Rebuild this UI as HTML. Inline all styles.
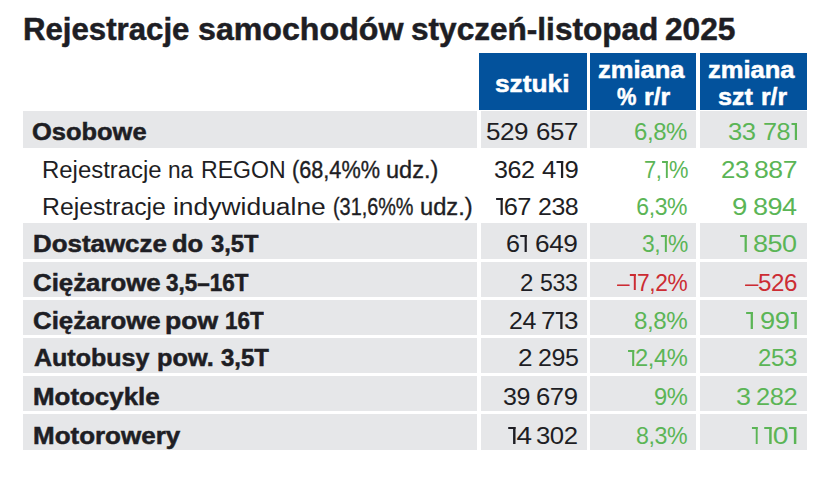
<!DOCTYPE html>
<html><head><meta charset="utf-8"><style>
html,body{margin:0;padding:0;background:#fff;}
body{width:828px;height:483px;position:relative;overflow:hidden;font-family:"Liberation Sans",sans-serif;}
.b{position:absolute;}
.t{position:absolute;white-space:nowrap;line-height:1;transform-origin:0 0;}
.m{font-weight:700;}
.one{display:inline-block;width:.34em;height:.72em;position:relative}.one::after{content:"";position:absolute;right:.05em;top:0;width:.26em;height:.715em;border-top:.09em solid;border-right:.1em solid;box-sizing:border-box}
</style></head><body>
<div class="b" style="left:479px;top:53px;width:108px;height:57px;background:#03529c"></div>
<div class="b" style="left:590px;top:53px;width:106px;height:57px;background:#03529c"></div>
<div class="b" style="left:700px;top:53px;width:107px;height:57px;background:#03529c"></div>
<div class="b" style="left:23px;top:111px;width:454px;height:37px;background:#e6e7e9"></div>
<div class="b" style="left:481px;top:111px;width:106px;height:37px;background:#e6e7e9"></div>
<div class="b" style="left:590px;top:111px;width:106px;height:37px;background:#e6e7e9"></div>
<div class="b" style="left:700px;top:111px;width:107px;height:37px;background:#e6e7e9"></div>
<div class="b" style="left:23px;top:223px;width:454px;height:36px;background:#e6e7e9"></div>
<div class="b" style="left:481px;top:223px;width:106px;height:36px;background:#e6e7e9"></div>
<div class="b" style="left:590px;top:223px;width:106px;height:36px;background:#e6e7e9"></div>
<div class="b" style="left:700px;top:223px;width:107px;height:36px;background:#e6e7e9"></div>
<div class="b" style="left:23px;top:262px;width:454px;height:35px;background:#e6e7e9"></div>
<div class="b" style="left:481px;top:262px;width:106px;height:35px;background:#e6e7e9"></div>
<div class="b" style="left:590px;top:262px;width:106px;height:35px;background:#e6e7e9"></div>
<div class="b" style="left:700px;top:262px;width:107px;height:35px;background:#e6e7e9"></div>
<div class="b" style="left:23px;top:300px;width:454px;height:35px;background:#e6e7e9"></div>
<div class="b" style="left:481px;top:300px;width:106px;height:35px;background:#e6e7e9"></div>
<div class="b" style="left:590px;top:300px;width:106px;height:35px;background:#e6e7e9"></div>
<div class="b" style="left:700px;top:300px;width:107px;height:35px;background:#e6e7e9"></div>
<div class="b" style="left:23px;top:338px;width:454px;height:35px;background:#e6e7e9"></div>
<div class="b" style="left:481px;top:338px;width:106px;height:35px;background:#e6e7e9"></div>
<div class="b" style="left:590px;top:338px;width:106px;height:35px;background:#e6e7e9"></div>
<div class="b" style="left:700px;top:338px;width:107px;height:35px;background:#e6e7e9"></div>
<div class="b" style="left:23px;top:376px;width:454px;height:35px;background:#e6e7e9"></div>
<div class="b" style="left:481px;top:376px;width:106px;height:35px;background:#e6e7e9"></div>
<div class="b" style="left:590px;top:376px;width:106px;height:35px;background:#e6e7e9"></div>
<div class="b" style="left:700px;top:376px;width:107px;height:35px;background:#e6e7e9"></div>
<div class="b" style="left:23px;top:414px;width:454px;height:36px;background:#e6e7e9"></div>
<div class="b" style="left:481px;top:414px;width:106px;height:36px;background:#e6e7e9"></div>
<div class="b" style="left:590px;top:414px;width:106px;height:36px;background:#e6e7e9"></div>
<div class="b" style="left:700px;top:414px;width:107px;height:36px;background:#e6e7e9"></div>
<div class="t" style="left:23.35px;top:14.48px;font-size:30.5px;font-weight:700;color:#1e1e24;transform:scaleX(1.0225);-webkit-text-stroke:0.5px #1e1e24;">Rejestracje</div>
<div class="t" style="left:197.65px;top:14.48px;font-size:30.5px;font-weight:700;color:#1e1e24;transform:scaleX(1.0541);-webkit-text-stroke:0.5px #1e1e24;">samochodów</div>
<div class="t" style="left:410.66px;top:14.48px;font-size:30.5px;font-weight:700;color:#1e1e24;transform:scaleX(1.0352);-webkit-text-stroke:0.5px #1e1e24;">styczeń-listopad</div>
<div class="t" style="left:664.96px;top:14.48px;font-size:30.5px;font-weight:700;color:#1e1e24;transform:scaleX(1.0388);-webkit-text-stroke:0.5px #1e1e24;">2025</div>
<div class="t" style="left:495.16px;top:73.43px;font-size:23px;font-weight:700;color:#ffffff;transform:scaleX(1.1429);-webkit-text-stroke:0.5px #ffffff;">sztuki</div>
<div class="t" style="left:598.09px;top:59.03px;font-size:23px;font-weight:700;color:#ffffff;transform:scaleX(1.1103);-webkit-text-stroke:0.5px #ffffff;">zmiana</div>
<div class="t" style="left:616.90px;top:85.83px;font-size:23px;font-weight:700;color:#ffffff;transform:scaleX(0.9500);-webkit-text-stroke:0.5px #ffffff;">%</div>
<div class="t" style="left:643.82px;top:85.83px;font-size:23px;font-weight:700;color:#ffffff;transform:scaleX(1.0783);-webkit-text-stroke:0.5px #ffffff;">r/r</div>
<div class="t" style="left:708.49px;top:59.03px;font-size:23px;font-weight:700;color:#ffffff;transform:scaleX(1.1103);-webkit-text-stroke:0.5px #ffffff;">zmiana</div>
<div class="t" style="left:718.21px;top:85.83px;font-size:23px;font-weight:700;color:#ffffff;transform:scaleX(1.0935);-webkit-text-stroke:0.5px #ffffff;">szt</div>
<div class="t" style="left:761.23px;top:85.83px;font-size:23px;font-weight:700;color:#ffffff;transform:scaleX(1.0739);-webkit-text-stroke:0.5px #ffffff;">r/r</div>
<div class="t" style="left:31.99px;top:120.93px;font-size:23px;font-weight:700;color:#1e1e24;transform:scaleX(1.1069);-webkit-text-stroke:0.5px #1e1e24;">Osobowe</div>
<div class="t" style="left:32.67px;top:232.93px;font-size:23px;font-weight:700;color:#1e1e24;transform:scaleX(1.1256);-webkit-text-stroke:0.5px #1e1e24;">Dostawcze</div>
<div class="t" style="left:172.49px;top:232.93px;font-size:23px;font-weight:700;color:#1e1e24;transform:scaleX(1.1111);-webkit-text-stroke:0.5px #1e1e24;">do</div>
<div class="t" style="left:211.20px;top:232.93px;font-size:23px;font-weight:700;color:#1e1e24;transform:scaleX(1.0326);-webkit-text-stroke:0.5px #1e1e24;">3,5T</div>
<div class="t" style="left:32.68px;top:271.53px;font-size:23px;font-weight:700;color:#1e1e24;transform:scaleX(1.1223);-webkit-text-stroke:0.5px #1e1e24;">Ciężarowe</div>
<div class="t" style="left:166.40px;top:271.53px;font-size:23px;font-weight:700;color:#1e1e24;transform:scaleX(0.9776);-webkit-text-stroke:0.5px #1e1e24;">3,5–16T</div>
<div class="t" style="left:32.68px;top:309.63px;font-size:23px;font-weight:700;color:#1e1e24;transform:scaleX(1.1223);-webkit-text-stroke:0.5px #1e1e24;">Ciężarowe</div>
<div class="t" style="left:165.25px;top:309.63px;font-size:23px;font-weight:700;color:#1e1e24;transform:scaleX(1.1533);-webkit-text-stroke:0.5px #1e1e24;">pow</div>
<div class="t" style="left:224.63px;top:309.63px;font-size:23px;font-weight:700;color:#1e1e24;transform:scaleX(0.9744);-webkit-text-stroke:0.5px #1e1e24;">16T</div>
<div class="t" style="left:33.80px;top:347.13px;font-size:23px;font-weight:700;color:#1e1e24;transform:scaleX(1.0877);-webkit-text-stroke:0.5px #1e1e24;">Autobusy</div>
<div class="t" style="left:157.10px;top:347.13px;font-size:23px;font-weight:700;color:#1e1e24;transform:scaleX(1.1000);-webkit-text-stroke:0.5px #1e1e24;">pow.</div>
<div class="t" style="left:220.90px;top:347.13px;font-size:23px;font-weight:700;color:#1e1e24;transform:scaleX(1.0413);-webkit-text-stroke:0.5px #1e1e24;">3,5T</div>
<div class="t" style="left:32.67px;top:385.63px;font-size:23px;font-weight:700;color:#1e1e24;transform:scaleX(1.1261);-webkit-text-stroke:0.5px #1e1e24;">Motocykle</div>
<div class="t" style="left:32.67px;top:424.73px;font-size:23px;font-weight:700;color:#1e1e24;transform:scaleX(1.1292);-webkit-text-stroke:0.5px #1e1e24;">Motorowery</div>
<div class="t" style="left:42.32px;top:158.73px;font-size:23px;font-weight:400;color:#1e1e24;transform:scaleX(1.0402);">Rejestracje</div>
<div class="t" style="left:168.32px;top:158.73px;font-size:23px;font-weight:400;color:#1e1e24;transform:scaleX(0.9840);">na</div>
<div class="t" style="left:201.40px;top:158.73px;font-size:23px;font-weight:400;color:#1e1e24;transform:scaleX(1.0025);">REGON</div>
<div class="t" style="left:291.96px;top:158.73px;font-size:23px;font-weight:400;color:#1e1e24;transform:scaleX(0.9424);-webkit-text-stroke:0.35px #1e1e24;">(68,4%%</div>
<div class="t" style="left:385.88px;top:158.73px;font-size:23px;font-weight:400;color:#1e1e24;transform:scaleX(1.0224);-webkit-text-stroke:0.35px #1e1e24;">udz.)</div>
<div class="t" style="left:42.25px;top:196.03px;font-size:23px;font-weight:400;color:#1e1e24;transform:scaleX(1.0768);">Rejestracje</div>
<div class="t" style="left:172.85px;top:196.03px;font-size:23px;font-weight:400;color:#1e1e24;transform:scaleX(1.1489);">indywidualne</div>
<div class="t" style="left:332.84px;top:196.03px;font-size:23px;font-weight:400;color:#1e1e24;transform:scaleX(0.8620);-webkit-text-stroke:0.35px #1e1e24;">(31,6%%</div>
<div class="t" style="left:420.47px;top:196.03px;font-size:23px;font-weight:400;color:#1e1e24;transform:scaleX(1.0306);-webkit-text-stroke:0.35px #1e1e24;">udz.)</div>
<div class="t" style="left:485.87px;top:120.93px;font-size:23px;font-weight:400;color:#1e1e24;transform:scaleX(1.1333);letter-spacing:-0.4px;">529</div>
<div class="t" style="left:536.08px;top:120.93px;font-size:23px;font-weight:400;color:#1e1e24;transform:scaleX(1.1250);letter-spacing:-0.4px;">657</div>
<div class="t" style="left:493.91px;top:158.73px;font-size:23px;font-weight:400;color:#1e1e24;transform:scaleX(1.0917);letter-spacing:-0.4px;">362</div>
<div class="t" style="left:542.00px;top:158.73px;font-size:23px;font-weight:400;color:#1e1e24;transform:scaleX(1.1156);letter-spacing:-0.4px;">4<i class="one"></i>9</div>
<div class="t" style="left:495.29px;top:196.03px;font-size:23px;font-weight:400;color:#1e1e24;transform:scaleX(1.1065);letter-spacing:-0.4px;"><i class="one"></i>67</div>
<div class="t" style="left:537.62px;top:196.03px;font-size:23px;font-weight:400;color:#1e1e24;transform:scaleX(1.0833);letter-spacing:-0.4px;">238</div>
<div class="t" style="left:506.31px;top:232.93px;font-size:23px;font-weight:400;color:#1e1e24;transform:scaleX(1.0944);letter-spacing:-0.4px;">6<i class="one"></i></div>
<div class="t" style="left:535.46px;top:232.93px;font-size:23px;font-weight:400;color:#1e1e24;transform:scaleX(1.1417);letter-spacing:-0.4px;">649</div>
<div class="t" style="left:520.05px;top:271.53px;font-size:23px;font-weight:400;color:#1e1e24;transform:scaleX(1.0455);letter-spacing:-0.4px;">2</div>
<div class="t" style="left:540.49px;top:271.53px;font-size:23px;font-weight:400;color:#1e1e24;transform:scaleX(1.0056);letter-spacing:-0.4px;">533</div>
<div class="t" style="left:508.82px;top:309.63px;font-size:23px;font-weight:400;color:#1e1e24;transform:scaleX(1.0833);letter-spacing:-0.4px;">24</div>
<div class="t" style="left:541.47px;top:309.63px;font-size:23px;font-weight:400;color:#1e1e24;transform:scaleX(1.1323);letter-spacing:-0.4px;">7<i class="one"></i>3</div>
<div class="t" style="left:518.16px;top:347.13px;font-size:23px;font-weight:400;color:#1e1e24;transform:scaleX(1.1364);letter-spacing:-0.4px;">2</div>
<div class="t" style="left:537.51px;top:347.13px;font-size:23px;font-weight:400;color:#1e1e24;transform:scaleX(1.0861);letter-spacing:-0.4px;">295</div>
<div class="t" style="left:502.81px;top:385.63px;font-size:23px;font-weight:400;color:#1e1e24;transform:scaleX(1.0870);letter-spacing:-0.4px;">39</div>
<div class="t" style="left:536.38px;top:385.63px;font-size:23px;font-weight:400;color:#1e1e24;transform:scaleX(1.1167);letter-spacing:-0.4px;">679</div>
<div class="t" style="left:506.78px;top:424.73px;font-size:23px;font-weight:400;color:#1e1e24;transform:scaleX(1.2158);letter-spacing:-0.4px;"><i class="one"></i>4</div>
<div class="t" style="left:536.38px;top:424.73px;font-size:23px;font-weight:400;color:#1e1e24;transform:scaleX(1.1167);letter-spacing:-0.4px;">302</div>
<div class="t" style="left:634.16px;top:120.93px;font-size:23px;font-weight:400;color:#5bb556;transform:scaleX(1.0420);letter-spacing:-0.4px;">6,8%</div>
<div class="t" style="left:643.55px;top:158.73px;font-size:23px;font-weight:400;color:#5bb556;transform:scaleX(0.9511);letter-spacing:-0.4px;">7,<i class="one"></i>%</div>
<div class="t" style="left:636.30px;top:196.03px;font-size:23px;font-weight:400;color:#5bb556;letter-spacing:-0.4px;">6,3%</div>
<div class="t" style="left:641.61px;top:232.93px;font-size:23px;font-weight:400;color:#5bb556;transform:scaleX(0.9933);letter-spacing:-0.4px;">3,<i class="one"></i>%</div>
<div class="t" style="left:617.10px;top:271.53px;font-size:23px;font-weight:400;color:#cc2c33;transform:scaleX(0.9887);letter-spacing:-0.4px;">–<i class="one"></i>7,2%</div>
<div class="t" style="left:633.75px;top:309.63px;font-size:23px;font-weight:400;color:#5bb556;transform:scaleX(1.0500);letter-spacing:-0.4px;">8,8%</div>
<div class="t" style="left:627.47px;top:347.13px;font-size:23px;font-weight:400;color:#5bb556;transform:scaleX(1.0316);letter-spacing:-0.4px;"><i class="one"></i>2,4%</div>
<div class="t" style="left:654.27px;top:385.63px;font-size:23px;font-weight:400;color:#5bb556;transform:scaleX(1.0323);letter-spacing:-0.4px;">9%</div>
<div class="t" style="left:635.89px;top:424.73px;font-size:23px;font-weight:400;color:#5bb556;transform:scaleX(1.0080);letter-spacing:-0.4px;">8,3%</div>
<div class="t" style="left:727.59px;top:120.93px;font-size:23px;font-weight:400;color:#5bb556;transform:scaleX(1.1130);letter-spacing:-0.4px;">33</div>
<div class="t" style="left:762.60px;top:120.93px;font-size:23px;font-weight:400;color:#5bb556;transform:scaleX(1.0967);letter-spacing:-0.4px;">78<i class="one"></i></div>
<div class="t" style="left:720.88px;top:158.73px;font-size:23px;font-weight:400;color:#5bb556;transform:scaleX(1.1217);letter-spacing:-0.4px;">23</div>
<div class="t" style="left:753.84px;top:158.73px;font-size:23px;font-weight:400;color:#5bb556;transform:scaleX(1.1556);letter-spacing:-0.4px;">887</div>
<div class="t" style="left:732.30px;top:196.03px;font-size:23px;font-weight:400;color:#5bb556;transform:scaleX(1.2000);letter-spacing:-0.4px;">9</div>
<div class="t" style="left:753.12px;top:196.03px;font-size:23px;font-weight:400;color:#5bb556;transform:scaleX(1.1750);letter-spacing:-0.4px;">894</div>
<div class="t" style="left:738.78px;top:232.93px;font-size:23px;font-weight:400;color:#5bb556;transform:scaleX(1.1167);letter-spacing:-0.4px;"><i class="one"></i></div>
<div class="t" style="left:753.12px;top:232.93px;font-size:23px;font-weight:400;color:#5bb556;transform:scaleX(1.1750);letter-spacing:-0.4px;">850</div>
<div class="t" style="left:745.27px;top:309.63px;font-size:23px;font-weight:400;color:#5bb556;transform:scaleX(1.1333);letter-spacing:-0.4px;"><i class="one"></i></div>
<div class="t" style="left:759.81px;top:309.63px;font-size:23px;font-weight:400;color:#5bb556;transform:scaleX(1.1867);letter-spacing:-0.4px;">99<i class="one"></i></div>
<div class="t" style="left:735.83px;top:385.63px;font-size:23px;font-weight:400;color:#5bb556;transform:scaleX(1.1727);letter-spacing:-0.4px;">3</div>
<div class="t" style="left:755.69px;top:385.63px;font-size:23px;font-weight:400;color:#5bb556;transform:scaleX(1.1056);letter-spacing:-0.4px;">282</div>
<div class="t" style="left:750.95px;top:424.73px;font-size:23px;font-weight:400;color:#5bb556;transform:scaleX(0.9500);letter-spacing:-0.4px;"><i class="one"></i></div>
<div class="t" style="left:763.27px;top:424.73px;font-size:23px;font-weight:400;color:#5bb556;transform:scaleX(1.2346);letter-spacing:-0.4px;"><i class="one"></i>0<i class="one"></i></div>
<div class="t" style="left:745.10px;top:271.53px;font-size:23px;font-weight:400;color:#cc2c33;transform:scaleX(1.0510);letter-spacing:-0.4px;">–526</div>
<div class="t" style="left:757.96px;top:347.13px;font-size:23px;font-weight:400;color:#5bb556;transform:scaleX(1.0444);letter-spacing:-0.4px;">253</div>
</body></html>
